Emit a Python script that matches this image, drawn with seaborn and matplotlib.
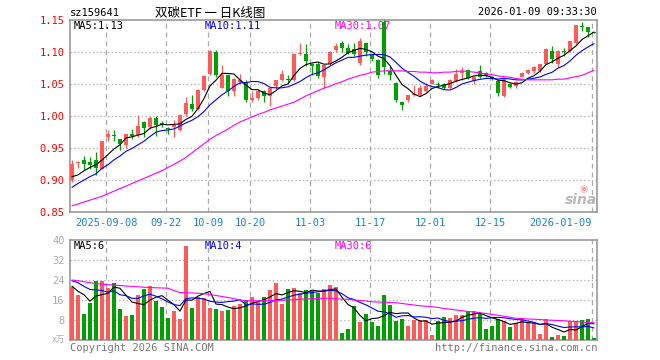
import numpy as np
import pandas as pd
import matplotlib
matplotlib.use('Agg')
import matplotlib.pyplot as plt
import seaborn as sns

# daily K-line, index 0 = 2025-08-29 ... index 87 = 2026-01-09
opens = [0.900, 0.927, 0.932, 0.928, 0.932, 0.918, 0.967, 0.971, 0.964, 0.955,
         0.972, 0.971, 0.991, 0.983, 0.998, 0.989, 0.982, 0.984, 0.979, 1.003,
         1.019, 1.012, 1.041, 1.066, 1.100, 1.045, 1.065, 1.040, 1.053, 1.054,
         1.025, 1.029, 1.040, 1.031, 1.048, 1.057, 1.058, 1.057, 1.097, 1.097,
         1.081, 1.081, 1.062, 1.082, 1.103, 1.114, 1.106, 1.105, 1.084, 1.114,
         1.096, 1.088, 1.148, 1.070, 1.052, 1.023, 1.025, 1.033, 1.033, 1.040,
         1.051, 1.050, 1.051, 1.045, 1.055, 1.068, 1.072, 1.055, 1.070, 1.068,
         1.062, 1.055, 1.031, 1.051, 1.047, 1.062, 1.068, 1.070, 1.071, 1.082,
         1.102, 1.082, 1.102, 1.102, 1.115, 1.141, 1.139, 1.131]
highs = [0.932, 0.930, 0.938, 0.937, 0.945, 0.962, 0.979, 0.978, 0.965, 0.973,
         0.980, 1.002, 0.992, 1.001, 1.000, 0.992, 0.983, 0.994, 1.003, 1.030,
         1.033, 1.042, 1.064, 1.103, 1.103, 1.080, 1.066, 1.060, 1.066, 1.056,
         1.040, 1.042, 1.041, 1.045, 1.055, 1.072, 1.065, 1.099, 1.114, 1.113,
         1.084, 1.085, 1.080, 1.102, 1.114, 1.117, 1.113, 1.114, 1.122, 1.116,
         1.098, 1.090, 1.150, 1.078, 1.053, 1.024, 1.034, 1.049, 1.049, 1.052,
         1.058, 1.054, 1.052, 1.058, 1.074, 1.077, 1.074, 1.063, 1.080, 1.070,
         1.063, 1.056, 1.059, 1.052, 1.055, 1.069, 1.074, 1.078, 1.082, 1.106,
         1.110, 1.103, 1.107, 1.118, 1.143, 1.148, 1.140, 1.131]
lows = [0.898, 0.920, 0.916, 0.917, 0.909, 0.917, 0.962, 0.962, 0.948, 0.951,
        0.964, 0.968, 0.968, 0.980, 0.970, 0.983, 0.972, 0.967, 0.977, 1.000,
        1.009, 1.010, 1.040, 1.064, 1.061, 1.044, 1.031, 1.031, 1.050, 1.023,
        1.023, 1.025, 1.023, 1.016, 1.043, 1.055, 1.052, 1.055, 1.096, 1.078,
        1.065, 1.060, 1.044, 1.080, 1.100, 1.100, 1.097, 1.094, 1.080, 1.094,
        1.086, 1.060, 1.066, 1.057, 1.022, 1.010, 1.022, 1.032, 1.031, 1.038,
        1.050, 1.045, 1.043, 1.043, 1.053, 1.056, 1.058, 1.050, 1.060, 1.061,
        1.056, 1.031, 1.030, 1.044, 1.045, 1.061, 1.066, 1.068, 1.070, 1.081,
        1.083, 1.077, 1.095, 1.100, 1.113, 1.133, 1.124, 1.130]
closes = [0.925, 0.929, 0.925, 0.924, 0.919, 0.961, 0.972, 0.969, 0.957, 0.972,
          0.970, 0.985, 0.982, 0.998, 0.986, 0.987, 0.980, 0.986, 1.002, 1.021,
          1.011, 1.041, 1.063, 1.102, 1.065, 1.065, 1.040, 1.058, 1.056, 1.025,
          1.029, 1.040, 1.031, 1.044, 1.056, 1.066, 1.056, 1.097, 1.099, 1.086,
          1.079, 1.063, 1.080, 1.101, 1.110, 1.107, 1.099, 1.097, 1.118, 1.101,
          1.089, 1.065, 1.077, 1.064, 1.025, 1.017, 1.033, 1.035, 1.044, 1.048,
          1.057, 1.049, 1.045, 1.057, 1.066, 1.071, 1.060, 1.062, 1.062, 1.063,
          1.058, 1.037, 1.058, 1.046, 1.053, 1.068, 1.073, 1.077, 1.081, 1.105,
          1.089, 1.102, 1.100, 1.117, 1.142, 1.139, 1.131, 1.130]
# volume in 万
volumes = [21.1, 18.1, 10.4, 14.8, 23.7, 23.7, 20.8, 22.8, 12.5, 9.7,
           10.1, 17.9, 20.5, 21.6, 15.5, 13.2, 8.8, 11.7, 8.5, 37.7,
           12.8, 17.1, 16.8, 12.8, 12.4, 11.7, 12.1, 13.7, 14.4, 16.1,
           17.1, 15.7, 17.1, 20.1, 22.8, 14.4, 20.5, 20.8, 18.8, 20.1,
           19.5, 18.8, 20.5, 22.1, 21.2, 2.8, 4.5, 13.5, 7.2, 10.4,
           7.2, 5.6, 18.1, 14.1, 7.7, 8.5, 5.6, 8.0, 8.0, 8.0,
           2.1, 7.7, 9.1, 8.8, 9.9, 9.9, 11.7, 11.7, 10.9, 4.5,
           5.6, 8.3, 7.5, 5.3, 6.7, 8.5, 6.7, 6.7, 2.4, 8.5,
           1.3, 2.1, 1.6, 7.5, 7.5, 8.1, 8.5, 0.8]
# sessions just before the window, needed for the MA5 / MA10 lines
pre_close = [0.868, 0.872, 0.870, 0.876, 0.876, 0.915, 0.893, 0.897, 0.898]
pre_vol = [26.0, 25.0, 27.0, 26.0, 25.5, 28.1, 17.4, 27.8, 13.1]
ma30_price = [0.860, 0.863, 0.866, 0.869, 0.872, 0.875, 0.879, 0.883, 0.887, 0.891,
              0.895, 0.899, 0.903, 0.907, 0.911, 0.915, 0.920, 0.925, 0.930, 0.936,
              0.943, 0.950, 0.957, 0.964, 0.970, 0.975, 0.980, 0.986, 0.991, 0.995,
              0.999, 1.003, 1.006, 1.010, 1.013, 1.016, 1.019, 1.022, 1.027, 1.032,
              1.036, 1.040, 1.044, 1.047, 1.051, 1.054, 1.058, 1.061, 1.064, 1.066,
              1.069, 1.070, 1.071, 1.071, 1.071, 1.071, 1.070, 1.070, 1.069, 1.069,
              1.068, 1.068, 1.069, 1.069, 1.070, 1.071, 1.070, 1.069, 1.068, 1.066,
              1.065, 1.063, 1.062, 1.061, 1.059, 1.058, 1.057, 1.057, 1.057, 1.057,
              1.057, 1.058, 1.058, 1.060, 1.062, 1.064, 1.068, 1.072]
ma30_vol = [24.0, 23.7, 23.3, 22.9, 22.6, 22.3, 22.1, 22.0, 21.8, 21.6,
            21.4, 21.3, 21.1, 21.0, 20.9, 20.8, 20.7, 19.8, 19.0, 18.9,
            18.8, 18.7, 18.5, 18.2, 17.8, 17.4, 17.0, 16.5, 16.0, 15.7,
            15.7, 15.7, 15.7, 15.7, 15.8, 15.9, 16.0, 16.1, 16.3, 16.4,
            16.5, 16.6, 16.7, 16.7, 16.5, 16.3, 16.3, 16.0, 15.8, 15.6,
            15.3, 15.2, 15.1, 15.0, 14.9, 14.6, 14.3, 14.0, 13.7, 13.5,
            13.3, 13.0, 12.6, 12.3, 12.0, 11.7, 11.4, 11.2, 10.9, 10.6,
            10.2, 9.9, 9.5, 9.1, 8.7, 8.6, 8.4, 8.3, 8.2, 8.0,
            7.9, 7.8, 7.7, 7.5, 7.4, 7.2, 7.0, 6.9]
date_idx = [6, 16, 23, 30, 40, 50, 60, 70, 87]
date_labels = ['2025-09-08', '09-22', '10-09', '10-20', '11-03',
               '11-17', '12-01', '12-15', '2026-01-09']
price_ticks = [0.85, 0.90, 0.95, 1.00, 1.05, 1.10, 1.15]
vol_ticks = [8, 16, 24, 32, 40]

RED = '#ff5a5a'
GREEN = '#00a000'
MONO = ['DejaVu Sans Mono', 'Noto Sans CJK SC']

sns.set_style('white')
plt.rcParams['font.family'] = MONO

n = len(closes)
x = np.arange(n)
df = pd.DataFrame({'x': x, 'open': opens, 'high': highs, 'low': lows,
                   'close': closes, 'vol': volumes})
cs = pd.Series(pre_close + closes)
vs = pd.Series(pre_vol + volumes)
df['ma5'] = cs.rolling(5).mean().iloc[9:].values
df['ma10'] = cs.rolling(10).mean().iloc[9:].values
df['ma30'] = ma30_price
df['vma5'] = vs.rolling(5).mean().iloc[9:].values
df['vma10'] = vs.rolling(10).mean().iloc[9:].values
df['vma30'] = ma30_vol
up = df['close'] >= df['open']
cols = np.where(up, RED, GREEN)

fig = plt.figure(figsize=(6.6, 3.6), dpi=100)
W, H = 660, 360
ax1 = fig.add_axes([70 / W, 1 - 212.3 / H, 527 / W, 192 / H])
ax2 = fig.add_axes([70 / W, 1 - 340 / H, 527 / W, 100 / H])

# candles
ax1.vlines(df['x'], df['low'], df['high'], colors=cols, lw=0.9, zorder=3)
body = np.maximum((df['close'] - df['open']).abs(), 0.0012)
ax1.bar(df['x'], body, bottom=np.minimum(df['open'], df['close']),
        width=0.72, color=cols, lw=0, zorder=3)
sns.lineplot(data=df, x='x', y='ma5', ax=ax1, color='black', lw=0.8, zorder=4)
sns.lineplot(data=df, x='x', y='ma10', ax=ax1, color='#0000ff', lw=0.8, zorder=4)
sns.lineplot(data=df, x='x', y='ma30', ax=ax1, color='#ff00ff', lw=0.8, zorder=4)

# volume
ax2.bar(df['x'], df['vol'], width=0.8, color=cols, lw=0, zorder=3)
sns.lineplot(data=df, x='x', y='vma5', ax=ax2, color='black', lw=0.8, zorder=4)
sns.lineplot(data=df, x='x', y='vma10', ax=ax2, color='#0000ff', lw=0.8, zorder=4)
sns.lineplot(data=df, x='x', y='vma30', ax=ax2, color='#ff00ff', lw=0.8, zorder=4)

grid_x = [i - 0.33 for i in date_idx]
for ax in (ax1, ax2):
    ax.set_xlim(-0.33, 87.5)
    ax.set_xlabel('')
    ax.set_ylabel('')
    ax.set_xticks(grid_x)
    for s in ax.spines.values():
        s.set_color('#999999')
        s.set_linewidth(1.2)
    for gx in grid_x:
        ax.axvline(gx, color='#aaaaaa', lw=0.9, ls=(0, (4, 3)), zorder=1)

ax1.set_ylim(0.85, 1.15)
ax1.set_yticks(price_ticks)
ax1.set_yticklabels(['%.2f' % v for v in price_ticks])
ax1.set_xticklabels(date_labels)
ax1.tick_params(axis='y', length=0, pad=4, labelsize=7.5, labelcolor='#ff0000')
ax1.tick_params(axis='x', length=0, pad=4, labelsize=7.5, labelcolor='#1a82d4')
ax1.get_xticklabels()[-1].set_ha('right')
for v in price_ticks[1:-1]:
    ax1.axhline(v, color='#aaaaaa', lw=0.9, ls=(0, (1, 2)), zorder=1)

ax2.set_ylim(0, 40)
ax2.set_yticks(vol_ticks)
ax2.set_yticklabels([str(v) for v in vol_ticks])
ax2.set_xticklabels([])
ax2.tick_params(axis='y', length=0, pad=4, labelsize=7.5, labelcolor='#aaaaaa')
ax2.tick_params(axis='x', length=0)
for v in vol_ticks[:-1]:
    ax2.axhline(v, color='#aaaaaa', lw=0.9, ls=(0, (1, 2)), zorder=1)

def ft(px, py, s, **kw):
    fig.text(px / W, 1 - py / H, s, va='center', **kw)

ft(70, 13, 'sz159641', fontsize=7.5, color='black')
ft(210, 13, '双碳ETF 一 日K线图', fontsize=9, ha='center', color='black',
   family=['Noto Sans CJK SC', 'DejaVu Sans'])
ft(597, 12, '2026-01-09 09:33:30', fontsize=7.5, ha='right', color='black')

for px, s, c in [(74, 'MA5:1.13', 'black'), (205, 'MA10:1.11', '#0000ff'),
                 (335, 'MA30:1.07', '#ff00ff')]:
    ax1.text(px / W, 1 - 26 / H, s, transform=fig.transFigure, va='center',
             fontsize=7.5, color=c, zorder=2)
for px, s, c in [(74, 'MA5:6', 'black'), (205, 'MA10:4', '#0000ff'),
                 (335, 'MA30:6', '#ff00ff')]:
    ax2.text(px / W, 1 - 246 / H, s, transform=fig.transFigure, va='center',
             fontsize=7.5, color=c, zorder=2)

ft(65, 339, 'x万', fontsize=6, ha='right', color='#aaaaaa')
ft(70, 348, 'Copyright 2026 SINA.COM', fontsize=7.5, color='#777777')
ft(597, 348, 'http://finance.sina.com.cn', fontsize=7.5, ha='right', color='#777777')
ft(581, 200, 'sina', fontsize=10, ha='center', color='#b8b8b8',
   style='italic', weight='bold', family='DejaVu Sans')
ft(584, 189, '◉', fontsize=7, ha='center', color='#f4a6a6', family='DejaVu Sans')

fig.savefig('out.png', dpi=100)
